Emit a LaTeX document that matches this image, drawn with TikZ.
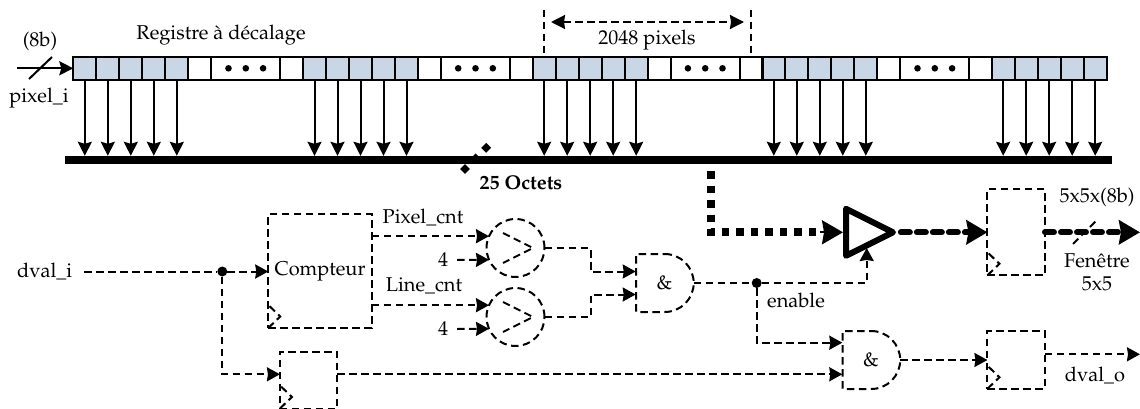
\documentclass[tikz,border=0pt]{standalone}
\usepackage[T1]{fontenc}
\usepackage{mathpazo}
\usepackage{xcolor}
\usetikzlibrary{arrows.meta,positioning,shapes.geometric,shapes.misc}
\definecolor{cellblue}{HTML}{C9D6E5}
\tikzset{
  txt/.style={inner sep=0pt,font=\fontsize{20}{24}\selectfont},
  cell/.style={draw,line width=2pt,inner sep=0pt,outer sep=0pt,minimum height=22.5pt,minimum width=23pt},
  bluecell/.style={cell,fill=cellblue},
  sline/.style={line width=2pt,-{Stealth[length=14pt,width=14pt,inset=2pt]}},
  dline/.style={line width=2pt,dash pattern=on 7.5pt off 4.5pt},
  darrow/.style={dline,-{Stealth[length=13pt,width=14pt,inset=1pt]}},
  regbox/.style={dline,draw,inner sep=0pt,outer sep=0pt,minimum width=57.5pt},
  cmpbox/.style={dline,draw,circle,inner sep=0pt,outer sep=0pt,minimum size=58pt},
  andbox/.style={dline,draw,rounded rectangle,rounded rectangle left arc=none,inner sep=0pt,outer sep=0pt,minimum width=57.5pt,minimum height=58pt,font=\fontsize{20}{24}\selectfont},
  junction/.style={circle,fill,inner sep=0pt,outer sep=0pt,minimum size=10pt},
  fatline/.style={line width=6pt,line cap=round,dash pattern=on 9pt off 7pt,-{Stealth[length=21pt,width=24pt,inset=2pt]}}
}
\begin{document}
\begin{tikzpicture}[x=1pt,y=-1pt]
\useasboundingbox (0,0) rectangle (1140,409);

\node (bus) at (588.3,160) [fill,inner sep=0pt,minimum width=1046.7pt,minimum height=8pt] {};

\foreach \b/\x in {a/73.3,b/303,c/532.7,d/762.3,e/991.7} {
  \foreach \i in {0,...,4} {
    \node (\b\i) at (\x+11.5+23*\i,68.3) [bluecell] {};
    \draw [sline] (\b\i) -- (\b\i |- bus.north);
  }
}
\foreach \b/\x in {a/73.3,b/303,c/532.7,d/762.3} {
  \node (\b w) at (\x+126.5,68.3) [cell] {};
  \node (\b p) at (\x+172.5,68.3) [cell,minimum width=69pt] {};
  \node (\b v) at (\x+218.5,68.3) [cell] {};
  \foreach \k in {-17.3,0,17.3}
    \fill (\x+172.5+\k,68.3) circle (3.3);
}

\coordinate (pixin) at (17,68.3);
\draw [sline] (pixin) -- (a0.west);
\draw [line width=2pt] (29,79) -- (52,57);
\node (nbits) at (40,41) [txt] {(8b)};
\node (pixi) at (39,98) [txt] {pixel\_i};
\node (regtxt) at (221,35) [txt] {Registre à décalage};

\coordinate (wa) at (544.2,10);
\coordinate (wb) at (750.7,10);
\coordinate (wc) at (551,22);
\coordinate (wd) at (744,22);
\draw [dline] (wa) -- (c0.north);
\draw [dline] (wb) -- (wb |- c0.north);
\draw [dline,{Stealth[length=14pt,width=14pt,inset=1pt]}-{Stealth[length=14pt,width=14pt,inset=1pt]}] (wc) -- (wd);
\node (wtxt) at (647,40) [txt] {2048 pixels};

\draw [line width=7pt,dash pattern=on 7pt off 8pt] (462.5,171.5) -- (492,142);
\node (octets) at (521,183) [txt,font=\fontsize{20}{24}\selectfont\bfseries] {25 Octets};

\node (dvali) at (44.7,271.5) [txt] {dval\_i};
\node (cnt) at (320,271) [regbox,minimum width=103.5pt,minimum height=114pt] {};
\node (cnttxt) at (320,271.5) [txt] {Compteur};
\node (rega) at (308.7,380) [regbox,minimum height=57pt] {};
\node (regb) at (1016.2,232.3) [regbox,minimum height=86pt] {};
\node (regc) at (1016.2,360) [regbox,minimum height=57.5pt] {};
\foreach \r in {cnt,rega,regb,regc}
  \draw [dline] (\r.south west) -- ++(12,-11.5) -- ++(-12,-11.5);

\node (cmpa) at (515.5,248) [cmpbox] {};
\node (cmpb) at (515.5,317) [cmpbox] {};
\draw [dline] (503,233) -- (533,248) -- (503,263);
\draw [dline] (503,302) -- (533,317) -- (503,332);

\node (pixcnt) at (423,217) [txt] {Pixel\_cnt};
\node (lincnt) at (424,286) [txt] {Line\_cnt};
\node (foura) at (443,260) [txt] {4};
\node (fourb) at (443,329) [txt] {4};

\node (anda) at (664.5,283) [andbox] {\&};
\node (andb) at (871,360) [andbox] {\&};
\node (bufr) at (843,232.3) [draw,line width=6pt,line join=round,isosceles triangle,isosceles triangle stretches,shape border rotate=0,anchor=lower side,inner sep=0pt,minimum width=47pt,minimum height=47pt] {};

\node (ja) at (222.3,271.5) [junction] {};
\node (jb) at (756.7,283) [junction] {};

\coordinate (anda1) at (635.7,271.5);
\coordinate (anda2) at (635.7,294.5);
\coordinate (andb1) at (842.3,342.7);
\coordinate (andb2) at (842.3,374.3);
\coordinate (enin) at (866.7,248);
\coordinate (tap) at (710.7,171);
\coordinate (outb) at (1140,232.3);
\coordinate (outc) at (1140,354.3);

\draw [dline] (dvali.east) ++(12,0) -- (ja);
\draw [darrow] (ja) -- (ja -| cnt.west);
\draw [darrow] (ja) |- (rega.west |- andb2);
\draw [darrow] (rega.east |- andb2) -- (andb2);

\draw [darrow] (cnt.east |- cmpa.156) -- (cmpa.156);
\draw [darrow] (cnt.east |- cmpb.156) -- (cmpb.156);
\draw [darrow] (foura.east) ++(9,0) -- (cmpa.204);
\draw [darrow] (fourb.east) ++(9,0) -- (cmpb.204);

\draw [darrow] (cmpa.east) -- ++(46,0) |- (anda1);
\draw [darrow] (cmpb.east) -- ++(46,0) |- (anda2);
\draw [dline] (anda.east) -- (jb);
\draw [darrow] (jb) -| (enin);
\draw [darrow] (jb) |- (andb1);
\draw [darrow] (andb.east) -- (regc.west);
\draw [darrow] (regc.east |- outc) -- (outc);

\draw [line width=8pt,dash pattern=on 7.5pt off 7pt] (tap) |- (820,232.3);
\draw [line width=2pt,-{Stealth[length=21pt,width=24pt,inset=2pt]}] (820,232.3) -- (bufr.lower side);
\draw [fatline] (bufr.apex) -- (regb.west);
\draw [fatline] (regb.east) -- (outb);
\draw [dline] (1073,244) -- (1097,220);

\node (enatxt) at (796,300) [txt] {enable};
\node (sizetxt) at (1097,197) [txt] {5x5x(8b)};
\node (fentxt) at (1097,272.5) [txt,align=center,font=\fontsize{20}{23.5}\selectfont] {Fenêtre\\5x5};
\node (dvalo) at (1095,375) [txt] {dval\_o};
\end{tikzpicture}
\end{document}
